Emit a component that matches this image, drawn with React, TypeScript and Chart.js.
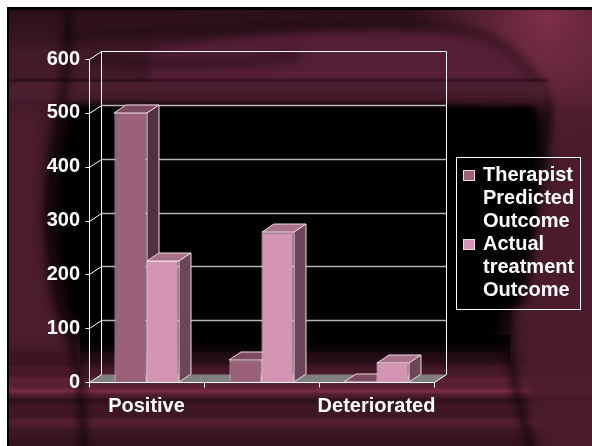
import React, { useEffect, useRef } from 'react';
import { Chart, registerables } from 'chart.js';

Chart.register(...registerables);

// ---- data ----
const categories = ['Positive', 'No Change', 'Deteriorated'];
const shownXLabels = [true, false, true];
const seriesNames = ['Therapist Predicted Outcome', 'Actual treatment Outcome'];
const predicted = [500, 40, 0];
const actual = [225, 278, 36];
const yTickValues = [0, 100, 200, 300, 400, 500, 600];

// ---- style ----
const FRONT = ['#9b6178', '#d494b4'];
const TOP = ['#7c4b60', '#a97089'];
const SIDE = ['#52303f', '#6d4659'];
const EDGE = '#f0d9e3';
const DX = 12;
const DY = -8;
const FONT_FAMILY = '"Liberation Sans", Arial, Helvetica, sans-serif';
const W = 592;
const H = 446;
const M = 40; // extra margin of the offscreen background

function makeBackground(w: number, h: number): HTMLCanvasElement {
  const off = document.createElement('canvas');
  off.width = w + 2 * M;
  off.height = h + 2 * M;
  const ctx = off.getContext('2d') as CanvasRenderingContext2D;
  ctx.translate(M, M); // page coordinates
  ctx.fillStyle = '#431a2a';
  ctx.fillRect(-M, -M, w + 4 * M, h + 4 * M);

  // darker top strip
  let g = ctx.createLinearGradient(0, 8, 0, 50);
  g.addColorStop(0, 'rgba(20,6,12,0.55)');
  g.addColorStop(1, 'rgba(20,6,12,0.1)');
  ctx.fillStyle = g;
  ctx.fillRect(-M, -M, w + 4 * M, 50 + M);

  // glow top right
  g = ctx.createRadialGradient(548, 18, 0, 548, 18, 140);
  g.addColorStop(0, 'rgba(130,48,78,0.95)');
  g.addColorStop(1, 'rgba(130,48,78,0)');
  ctx.fillStyle = g;
  ctx.fillRect(380, -M, 300, 200);

  // hump lighter shape
  ctx.filter = 'blur(4px)';
  ctx.fillStyle = '#551f37';
  ctx.beginPath();
  ctx.moveTo(150, 50);
  ctx.bezierCurveTo(250, 34, 390, 22, 462, 34);
  ctx.bezierCurveTo(505, 44, 528, 72, 540, 100);
  ctx.lineTo(150, 100);
  ctx.closePath();
  ctx.fill();
  // shadow along hump edge
  ctx.filter = 'blur(5px)';
  ctx.strokeStyle = 'rgba(18,5,10,0.55)';
  ctx.lineWidth = 8;
  ctx.beginPath();
  ctx.moveTo(60, 36);
  ctx.bezierCurveTo(200, 30, 390, 18, 464, 30);
  ctx.bezierCurveTo(510, 40, 534, 70, 548, 104);
  ctx.stroke();
  // darker arc on left top
  ctx.strokeStyle = 'rgba(15,4,9,0.45)';
  ctx.lineWidth = 10;
  ctx.beginPath();
  ctx.moveTo(90, 58);
  ctx.bezierCurveTo(160, 66, 240, 64, 300, 56);
  ctx.stroke();

  // band around y 82-100
  ctx.filter = 'blur(1px)';
  ctx.fillStyle = 'rgba(16,4,9,0.55)';
  ctx.fillRect(0, 79, 548, 3);
  ctx.fillStyle = '#4b1e30';
  ctx.fillRect(0, 82, 546, 19);

  // black central region
  ctx.filter = 'blur(9px)';
  ctx.fillStyle = '#000';
  ctx.beginPath();
  ctx.moveTo(62, 108);
  ctx.lineTo(546, 108);
  ctx.bezierCurveTo(545, 170, 525, 240, 510, 300);
  ctx.lineTo(505, 350);
  ctx.lineTo(82, 350);
  ctx.bezierCurveTo(60, 320, 46, 250, 50, 180);
  ctx.closePath();
  ctx.fill();
  ctx.filter = 'blur(3px)';
  ctx.fillRect(70, 106, 465, 200);

  // bottom streaks
  ctx.filter = 'blur(1.2px)';
  const streaks: [number, number, string][] = [
    [352, 366, 'rgba(60,20,34,0.9)'],
    [366, 377, 'rgba(72,26,42,0.9)'],
    [377, 388, 'rgba(92,34,54,0.95)'],
    [388, 394, 'rgba(118,42,66,1)'],
    [394, 398, 'rgba(80,29,47,1)'],
    [398, 404, 'rgba(48,17,28,1)'],
    [404, 418, 'rgba(62,22,36,1)'],
    [418, 428, 'rgba(80,30,48,1)'],
    [428, 436, 'rgba(62,23,36,1)'],
    [436, 500, 'rgba(52,19,31,1)'],
  ];
  streaks.forEach(([a, b, c]) => {
    ctx.fillStyle = c;
    ctx.fillRect(-M, a, w + 4 * M, b - a);
  });
  // soft top of the bottom streak area
  g = ctx.createLinearGradient(0, 335, 0, 372);
  g.addColorStop(0, 'rgba(0,0,0,1)');
  g.addColorStop(1, 'rgba(0,0,0,0)');
  ctx.filter = 'none';
  ctx.fillStyle = g;
  ctx.fillRect(80, 335, 430, 37);

  // left dark curve
  ctx.filter = 'blur(4px)';
  ctx.strokeStyle = 'rgba(8,2,5,0.85)';
  ctx.lineWidth = 6;
  ctx.beginPath();
  ctx.moveTo(66, -10);
  ctx.bezierCurveTo(78, 60, 50, 140, 48, 220);
  ctx.bezierCurveTo(50, 300, 74, 340, 80, 380);
  ctx.lineTo(86, 480);
  ctx.stroke();
  // right dark curve
  ctx.beginPath();
  ctx.moveTo(548, 104);
  ctx.bezierCurveTo(546, 180, 520, 250, 508, 310);
  ctx.bezierCurveTo(506, 360, 518, 400, 540, 480);
  ctx.stroke();
  // right lighter column
  ctx.filter = 'blur(6px)';
  ctx.fillStyle = 'rgba(74,28,44,0.9)';
  ctx.beginPath();
  ctx.moveTo(560, 110);
  ctx.bezierCurveTo(556, 180, 532, 250, 520, 310);
  ctx.bezierCurveTo(518, 360, 530, 400, 550, 490);
  ctx.lineTo(680, 490);
  ctx.lineTo(680, 110);
  ctx.closePath();
  ctx.fill();
  // left lighter column
  ctx.fillStyle = 'rgba(76,29,46,0.9)';
  ctx.beginPath();
  ctx.moveTo(-30, 110);
  ctx.lineTo(40, 110);
  ctx.bezierCurveTo(36, 180, 36, 260, 50, 320);
  ctx.lineTo(66, 346);
  ctx.lineTo(-30, 346);
  ctx.closePath();
  ctx.fill();

  ctx.filter = 'none';
  // frame border top / left
  ctx.fillStyle = '#000';
  ctx.fillRect(7, 7, 700, 3);
  ctx.fillRect(7, 7, 2, 500);
  // white page margin
  ctx.fillStyle = '#ffffff';
  ctx.fillRect(-M, -M, w + 4 * M, M + 7);
  ctx.fillRect(-M, -M, M + 7, h + 4 * M);
  return off;
}

let bgCache: HTMLCanvasElement | null = null;

const threeD = {
  id: 'threeD',
  beforeDraw(chart: any) {
    if (!bgCache) bgCache = makeBackground(chart.width, chart.height);
    const ctx: CanvasRenderingContext2D = chart.ctx;
    ctx.save();
    ctx.drawImage(bgCache, M, M, chart.width, chart.height, 0, 0, chart.width, chart.height);
    ctx.restore();
  },
  beforeDatasetsDraw(chart: any) {
    const ctx: CanvasRenderingContext2D = chart.ctx;
    const { left, right, bottom } = chart.chartArea;
    const ys = chart.scales.y;
    const L = Math.round(left) + 0.5;
    const R = Math.round(right) + 0.5;
    const B = Math.round(bottom) + 0.5;
    ctx.save();
    ctx.lineWidth = 1;

    // floor
    ctx.fillStyle = '#808080';
    ctx.beginPath();
    ctx.moveTo(L, B);
    ctx.lineTo(R, B);
    ctx.lineTo(R + DX, B + DY);
    ctx.lineTo(L + DX, B + DY);
    ctx.closePath();
    ctx.fill();
    ctx.strokeStyle = '#ffffff';
    ctx.beginPath();
    ctx.moveTo(R, B);
    ctx.lineTo(R + DX, B + DY);
    ctx.stroke();

    // back wall gridlines
    yTickValues.forEach((v) => {
      if (v === 0) return;
      const y = Math.round(ys.getPixelForValue(v) + DY) + 0.5;
      ctx.strokeStyle = v === 600 ? '#ffffff' : '#b4b4b4';
      ctx.lineWidth = v === 600 ? 1 : 1.6;
      ctx.beginPath();
      ctx.moveTo(L + DX, y);
      ctx.lineTo(R + DX, y);
      ctx.stroke();
    });
    ctx.lineWidth = 1;
    // back wall verticals
    const T = Math.round(ys.getPixelForValue(600)) + 0.5;
    ctx.strokeStyle = '#ffffff';
    ctx.beginPath();
    ctx.moveTo(L + DX, T + DY);
    ctx.lineTo(L + DX, B + DY);
    ctx.moveTo(R + DX, T + DY);
    ctx.lineTo(R + DX, B + DY);
    ctx.stroke();

    // front y axis, tick marks and diagonals
    ctx.beginPath();
    ctx.moveTo(L, T);
    ctx.lineTo(L, B);
    yTickValues.forEach((v) => {
      const y = Math.round(ys.getPixelForValue(v)) + 0.5;
      ctx.moveTo(L - 4, y);
      ctx.lineTo(L, y);
      ctx.moveTo(L, y);
      ctx.lineTo(L + DX, y + DY);
    });
    // front baseline and category ticks
    ctx.moveTo(L, B);
    ctx.lineTo(R, B);
    const n = categories.length;
    for (let i = 0; i <= n; i++) {
      const x = Math.round(left + (i * (right - left)) / n) + 0.5;
      ctx.moveTo(x, B);
      ctx.lineTo(x, B + 5);
    }
    ctx.stroke();

    // 3D faces of bars (front faces drawn by Chart.js afterwards)
    const metas = chart.data.datasets.map((_: any, i: number) => chart.getDatasetMeta(i));
    for (let j = 0; j < n; j++) {
      metas.forEach((meta: any, i: number) => {
        const el = meta.data[j];
        if (!el) return;
        const { x, y, base, width } = el.getProps(['x', 'y', 'base', 'width'], true);
        const l = Math.round(x - width / 2);
        const r = Math.round(x + width / 2);
        const yt = Math.round(y);
        const yb = Math.round(base);
        ctx.strokeStyle = EDGE;
        ctx.lineWidth = 1;
        // top face
        ctx.fillStyle = TOP[i];
        ctx.beginPath();
        ctx.moveTo(l, yt);
        ctx.lineTo(r, yt);
        ctx.lineTo(r + DX, yt + DY);
        ctx.lineTo(l + DX, yt + DY);
        ctx.closePath();
        ctx.fill();
        ctx.stroke();
        // side face
        ctx.fillStyle = SIDE[i];
        ctx.beginPath();
        ctx.moveTo(r, yt);
        ctx.lineTo(r + DX, yt + DY);
        ctx.lineTo(r + DX, yb + DY);
        ctx.lineTo(r, yb);
        ctx.closePath();
        ctx.fill();
        ctx.stroke();
      });
    }
    ctx.restore();
  },
};

export default function App() {
  const ref = useRef<HTMLCanvasElement>(null);

  useEffect(() => {
    document.documentElement.style.overflow = 'hidden';
    document.body.style.overflow = 'hidden';
    if (!ref.current) return;
    const font = { family: FONT_FAMILY, size: 20, weight: 'bold' as const, lineHeight: 1.2 };
    const chart = new Chart(ref.current, {
      type: 'bar',
      data: {
        labels: categories,
        datasets: [
          {
            label: seriesNames[0],
            data: predicted,
            backgroundColor: FRONT[0],
            borderColor: EDGE,
            borderWidth: 1,
            categoryPercentage: 0.557,
            barPercentage: 1,
          },
          {
            label: seriesNames[1],
            data: actual,
            backgroundColor: FRONT[1],
            borderColor: EDGE,
            borderWidth: 1,
            categoryPercentage: 0.557,
            barPercentage: 1,
          },
        ],
      },
      options: {
        responsive: false,
        animation: false,
        devicePixelRatio: 1,
        layout: { padding: { top: 59, right: 158, bottom: 0, left: 0 } },
        plugins: { legend: { display: false }, tooltip: { enabled: false } },
        scales: {
          x: {
            grid: { display: false, drawTicks: false },
            border: { display: false },
            ticks: {
              color: '#ffffff',
              font,
              padding: 12,
              autoSkip: false,
              maxRotation: 0,
              callback: (_v: any, i: number) => (shownXLabels[i] ? categories[i] : ''),
            },
            afterFit: (s: any) => {
              s.height = 64;
            },
          },
          y: {
            min: 0,
            max: 600,
            grid: { display: false, drawTicks: false },
            border: { display: false },
            ticks: { stepSize: 100, color: '#ffffff', font, padding: 9 },
            afterFit: (s: any) => {
              s.width = 89;
            },
          },
        },
      },
      plugins: [threeD],
    });
    return () => chart.destroy();
  }, []);

  const legendFont: React.CSSProperties = {
    fontFamily: FONT_FAMILY,
    fontWeight: 'bold',
    fontSize: 20,
    lineHeight: '23px',
    color: '#ffffff',
  };

  return (
    <div style={{ position: 'fixed', left: 0, top: 0, width: W, height: H, overflow: 'hidden' }}>
      <canvas ref={ref} width={W} height={H} style={{ display: 'block', width: W, height: H }} />
      <div
        style={{
          position: 'absolute',
          left: 456,
          top: 157,
          width: 125,
          height: 153,
          boxSizing: 'border-box',
          border: '1px solid #ffffff',
          paddingTop: 5,
          ...legendFont,
        }}
      >
        {seriesNames.map((name, i) => (
          <div key={name} style={{ position: 'relative', paddingLeft: 26, width: 97 }}>
            <span
              style={{
                position: 'absolute',
                left: 6,
                top: 7,
                width: 10,
                height: 9,
                background: FRONT[i],
                border: '1px solid ' + EDGE,
              }}
            />
            {name}
          </div>
        ))}
      </div>
    </div>
  );
}
